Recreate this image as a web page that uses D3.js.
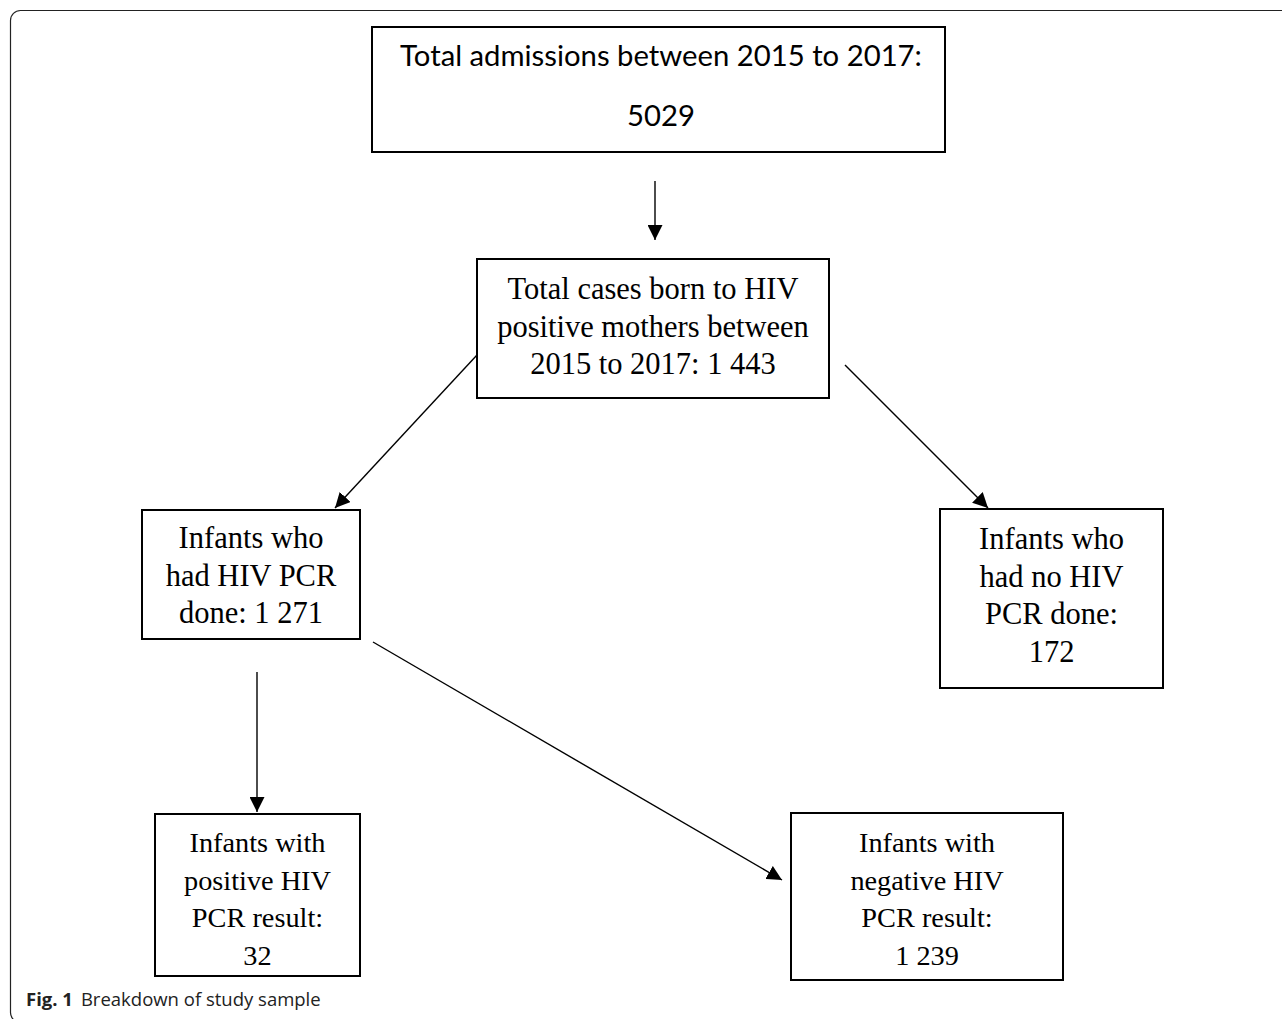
<!DOCTYPE html>
<html>
<head>
<meta charset="utf-8">
<script src="https://cdn.jsdelivr.net/npm/d3@7"></script>
<style>
  html, body { margin: 0; padding: 0; background: #fff; }
  svg { display: block; }
</style>
</head>
<body>
<svg id="chart" width="1282" height="1019"></svg>
<script>
// ---- data ----
const nodeIds = ["admissions", "hivMothers", "pcrDone", "noPcr", "positive", "negative"];
const nodeLines = [
  ["Total admissions between 2015 to 2017:", "5029"],
  ["Total cases born to HIV", "positive mothers between", "2015 to 2017: 1 443"],
  ["Infants who", "had HIV PCR", "done: 1 271"],
  ["Infants who", "had no HIV", "PCR done:", "172"],
  ["Infants with", "positive HIV", "PCR result:", "32"],
  ["Infants with", "negative HIV", "PCR result:", "1 239"]
];
const nodeCounts = [5029, 1443, 1271, 172, 32, 1239];
const edgeFrom = ["admissions", "hivMothers", "hivMothers", "pcrDone", "pcrDone"];
const edgeTo   = ["hivMothers", "pcrDone", "noPcr", "positive", "negative"];
const captionBold = "Fig. 1";
const captionText = "Breakdown of study sample";

// ---- layout (pixel geometry, separate from data) ----
const boxLayout = {
  admissions: { x0: 372, y0: 27, x1: 945, y1: 152 },
  hivMothers: { x0: 477, y0: 259, x1: 829, y1: 398 },
  pcrDone:    { x0: 142, y0: 510, x1: 360, y1: 639 },
  noPcr:      { x0: 940, y0: 509, x1: 1163, y1: 688 },
  positive:   { x0: 155, y0: 814, x1: 360, y1: 976 },
  negative:   { x0: 791, y0: 813, x1: 1063, y1: 980 }
};
const edgeLayout = [
  { x1: 655, y1: 181, x2: 655, y2: 240 },
  { x1: 477, y1: 355, x2: 335, y2: 508 },
  { x1: 845, y1: 365, x2: 988, y2: 508 },
  { x1: 257, y1: 672, x2: 257, y2: 812 },
  { x1: 373, y1: 642, x2: 782, y2: 880 }
];

const svg = d3.select("#chart");

// outer frame
svg.append("rect")
  .attr("x", 10.5).attr("y", 10.5)
  .attr("width", 1320).attr("height", 1012)
  .attr("rx", 10).attr("ry", 10)
  .attr("fill", "none").attr("stroke", "#222").attr("stroke-width", 1.2);

// arrow marker
svg.append("defs").append("marker")
  .attr("id", "arrow")
  .attr("viewBox", "0 0 10 10")
  .attr("refX", 10).attr("refY", 5)
  .attr("markerUnits", "userSpaceOnUse")
  .attr("markerWidth", 15).attr("markerHeight", 15)
  .attr("orient", "auto")
  .append("path").attr("d", "M0,0 L10,5 L0,10 Z").attr("fill", "#000");

// edges
svg.append("g").selectAll("line")
  .data(edgeFrom.map((f, i) => ({ from: f, to: edgeTo[i], ...edgeLayout[i] })))
  .join("line")
  .attr("x1", d => d.x1).attr("y1", d => d.y1)
  .attr("x2", d => d.x2).attr("y2", d => d.y2)
  .attr("stroke", "#000").attr("stroke-width", 1.4)
  .attr("marker-end", "url(#arrow)");

// nodes
const nodes = nodeIds.map((id, i) => ({ id, lines: nodeLines[i], count: nodeCounts[i], ...boxLayout[id] }));
const g = svg.append("g").selectAll("g").data(nodes).join("g");

g.append("rect")
  .attr("x", d => d.x0).attr("y", d => d.y0)
  .attr("width", d => d.x1 - d.x0).attr("height", d => d.y1 - d.y0)
  .attr("fill", "#fff").attr("stroke", "#000").attr("stroke-width", 2);

// top box (sans, Calibri-like) - size fitted so line 1 spans ~522px
const topBox = g.filter(d => d.id === "admissions");
const topY = [66, 126];
const topTexts = topBox.selectAll("text.t")
  .data(d => d.lines)
  .join("text")
  .attr("class", "t")
  .attr("x", 661)
  .attr("y", (t, i) => topY[i])
  .attr("text-anchor", "middle")
  .attr("font-family", "Lato, 'Open Sans', sans-serif")
  .attr("font-size", 28)
  .attr("fill", "#000")
  .text(t => t);
const w0 = topTexts.node().getComputedTextLength();
topTexts.attr("font-size", 28 * 522 / w0);

// serif boxes
const baseY = { hivMothers: 299, pcrDone: 548, noPcr: 549, positive: 852, negative: 852 };
const fontSz = { hivMothers: 30.5, pcrDone: 30.5, noPcr: 30.5, positive: 28.3, negative: 28.3 };
const lineGap = 37.7;
g.filter(d => d.id !== "admissions").each(function(d) {
  const cx = (d.x0 + d.x1) / 2;
  d3.select(this).selectAll("text.l")
    .data(d.lines)
    .join("text")
    .attr("class", "l")
    .attr("x", cx)
    .attr("y", (t, i) => baseY[d.id] + i * lineGap)
    .attr("text-anchor", "middle")
    .attr("font-family", "'Liberation Serif', 'Times New Roman', serif")
    .attr("font-size", fontSz[d.id])
    .attr("fill", "#000")
    .text(t => t);
});

// caption
const cap = svg.append("text")
  .attr("x", 26).attr("y", 1006)
  .attr("font-family", "'Open Sans', 'Noto Sans', sans-serif")
  .attr("font-size", 18.5)
  .attr("fill", "#222");
cap.append("tspan").attr("font-weight", "bold").text(captionBold);
cap.append("tspan").attr("dx", 8).text(captionText);
</script>
</body>
</html>
